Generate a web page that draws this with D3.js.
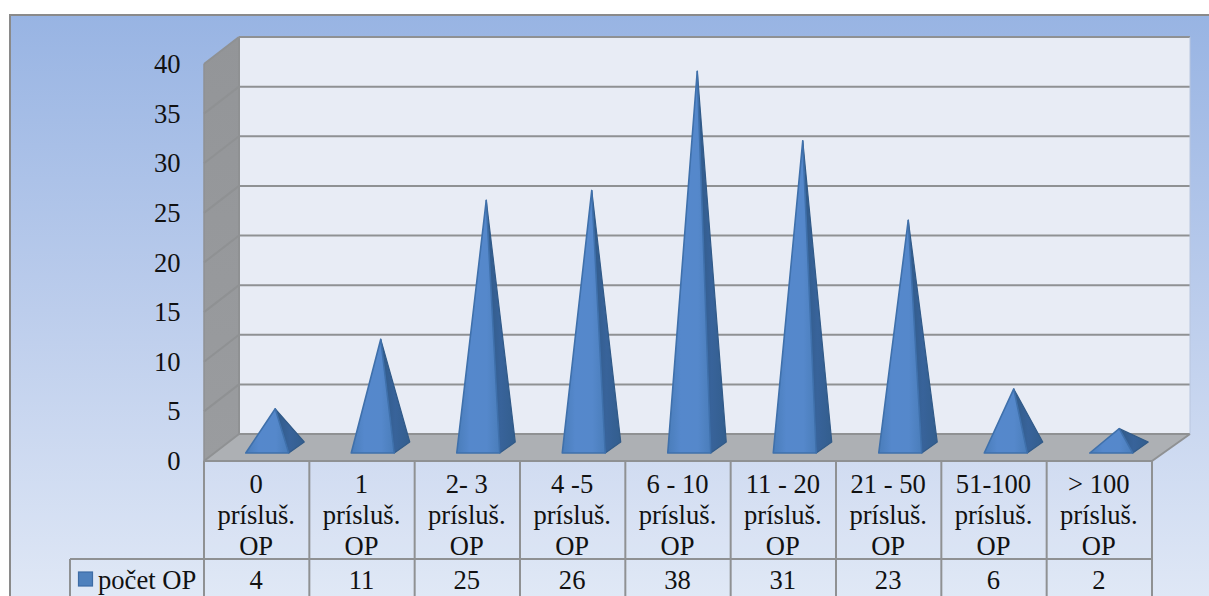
<!DOCTYPE html>
<html><head><meta charset="utf-8">
<script src="https://cdn.jsdelivr.net/npm/d3@7/dist/d3.min.js"></script>
<style>html,body{margin:0;padding:0;background:#fff;overflow:hidden}svg{display:block}
text{font-family:"Liberation Serif",serif;fill:#111}</style>
</head><body><svg id="c" width="1209" height="596"></svg>
<script>
const categoryTop = ["0","1","2- 3","4 -5","6 - 10","11 - 20","21 - 50","51-100","> 100"];
const categoryMid = "prísluš.";
const categoryEnd = "OP";
const values = [4,11,25,26,38,31,23,6,2];
const seriesName = "počet OP";
const yTicks = [0,5,10,15,20,25,30,35,40];

const FS = 26.6;
const svg = d3.select("#c");
const defs = svg.append("defs");
function grad(id,dir,stops){
  const g = defs.append("linearGradient").attr("id",id)
    .attr("x1",0).attr("y1",0).attr("x2",dir=="h"?1:0).attr("y2",dir=="h"?0:1);
  stops.forEach(s=>g.append("stop").attr("offset",s[0]).attr("stop-color",s[1]));
}
grad("bg","v",[[0,"#98b4e3"],[0.5,"#bccdec"],[1,"#e0e8f6"]]);
grad("wall","v",[[0,"#939598"],[1,"#9a9c9f"]]);
grad("front","h",[[0,"#4a7dba"],[0.3,"#5588cc"],[0.7,"#5588cb"],[1,"#4a7dba"]]);
grad("side","h",[[0,"#315a88"],[0.5,"#38639a"],[1,"#335e8e"]]);

svg.append("rect").attr("x",10).attr("y",15).attr("width",1205).attr("height",590)
  .attr("fill","url(#bg)").attr("stroke","#8a8a8a").attr("stroke-width",2);

const yFront = d3.scaleLinear().domain([0,40]).range([461,64]);
const yBack  = d3.scaleLinear().domain([0,40]).range([434,37]);
const yMid   = d3.scaleLinear().domain([0,40]).range([448.5,51.5]);
const xTable = d3.scaleBand().domain(categoryTop).range([204,1152]);
const xPyr   = d3.scaleBand().domain(categoryTop).range([214.5,1164]);
const backL=239, backR=1190, frontL=204, frontR=1152;
const gridC="#8f9193";

svg.append("rect").attr("x",backL).attr("y",yBack(40)).attr("width",backR-backL)
  .attr("height",yBack(0)-yBack(40)).attr("fill","#e8ecf5");
svg.append("polygon").attr("fill","url(#wall)")
  .attr("points",[[frontL,yFront(40)],[backL,yBack(40)],[backL,yBack(0)],[frontL,yFront(0)]].join(" "));
svg.append("polygon").attr("fill","#adb0b4")
  .attr("points",[[frontL,yFront(0)],[backL,yBack(0)],[backR,yBack(0)],[frontR,yFront(0)]].join(" "));

svg.selectAll(".gb").data(yTicks).join("line").attr("x1",backL).attr("x2",backR)
  .attr("y1",d=>yBack(d)).attr("y2",d=>yBack(d)).attr("stroke",gridC).attr("stroke-width",2);
svg.selectAll(".gs").data(yTicks).join("line").attr("x1",frontL).attr("x2",backL)
  .attr("y1",d=>yFront(d)).attr("y2",d=>yBack(d)).attr("stroke",gridC).attr("stroke-width",2);
svg.append("line").attr("x1",backL).attr("x2",backL).attr("y1",yBack(40)).attr("y2",yBack(0)).attr("stroke",gridC).attr("stroke-width",2);
svg.append("line").attr("x1",backR).attr("x2",backR).attr("y1",yBack(40)).attr("y2",yBack(0)).attr("stroke","#b9c6de").attr("stroke-width",1);
svg.append("line").attr("x1",backR).attr("x2",frontR).attr("y1",yBack(0)).attr("y2",yFront(0)).attr("stroke",gridC).attr("stroke-width",2);
svg.append("line").attr("x1",frontL).attr("x2",frontL).attr("y1",yFront(40)).attr("y2",yFront(0)).attr("stroke",gridC).attr("stroke-width",1.5);

// pyramids
const baseY=453, hw=21.5;
const g = svg.selectAll(".p").data(values.map((v,i)=>({v,c:categoryTop[i]}))).join("g");
const cx = d=>xPyr(d.c)+xPyr.bandwidth()/2;
g.append("polygon").attr("fill","url(#side)").attr("stroke","#315a88").attr("stroke-width",1.2).attr("stroke-linejoin","round")
  .attr("points",d=>[[cx(d)+8,yMid(d.v)],[cx(d)+hw,baseY],[cx(d)+37,442]].join(" "));
g.append("polygon").attr("fill","url(#front)").attr("stroke","#3f70ab").attr("stroke-width",1.6).attr("stroke-linejoin","round")
  .attr("points",d=>[[cx(d)-hw,baseY],[cx(d)+hw,baseY],[cx(d)+8,yMid(d.v)]].join(" "));

// y axis
const ax = svg.append("g").attr("transform","translate(180.5,0)")
  .call(d3.axisLeft(yFront).tickValues(yTicks).tickSize(0).tickPadding(0));
ax.select(".domain").remove();
ax.selectAll("text").attr("font-size",FS).attr("font-family","Liberation Serif").attr("fill","#111").attr("dy","0.32em");

// table
const tTop=461,tRow=559,tBot=600,cellF="#ffffff";
svg.append("rect").attr("x",frontL).attr("y",tTop).attr("width",frontR-frontL).attr("height",tBot-tTop).attr("fill",cellF).attr("opacity",0.05);
svg.append("rect").attr("x",70).attr("y",tRow).attr("width",frontL-70).attr("height",tBot-tRow).attr("fill",cellF).attr("opacity",0.05);
const vLines=[...categoryTop.map(c=>xTable(c)),frontR];
svg.selectAll(".v").data(vLines).join("line").attr("x1",d=>d).attr("x2",d=>d).attr("y1",tTop).attr("y2",tBot).attr("stroke",gridC).attr("stroke-width",2);
svg.append("line").attr("x1",70).attr("x2",frontR).attr("y1",tRow).attr("y2",tRow).attr("stroke",gridC).attr("stroke-width",2);
svg.append("line").attr("x1",70).attr("x2",70).attr("y1",tRow).attr("y2",tBot).attr("stroke",gridC).attr("stroke-width",2);
svg.append("line").attr("x1",frontL).attr("x2",frontR).attr("y1",tTop).attr("y2",tTop).attr("stroke",gridC).attr("stroke-width",2);

const cellX=c=>xTable(c)+xTable.bandwidth()/2-0.5;
[[categoryTop.map(c=>c),493],[categoryTop.map(()=>categoryMid),524],[categoryTop.map(()=>categoryEnd),554.5]].forEach(([arr,y])=>{
  svg.append("g").selectAll("text").data(arr).join("text")
    .attr("x",(d,i)=>cellX(categoryTop[i])).attr("y",y).attr("text-anchor","middle").attr("font-size",FS).text(d=>d);
});
svg.append("g").selectAll("text").data(values).join("text")
  .attr("x",(d,i)=>cellX(categoryTop[i])).attr("y",588.5).attr("text-anchor","middle").attr("font-size",FS).text(d=>d);
svg.append("rect").attr("x",78.5).attr("y",572).attr("width",14).attr("height",14).attr("fill","#4f81bd").attr("stroke","#3d6ca5").attr("stroke-width",1.2);
svg.append("text").attr("x",98).attr("y",588.5).attr("font-size",FS).text(seriesName);
</script></body></html>
